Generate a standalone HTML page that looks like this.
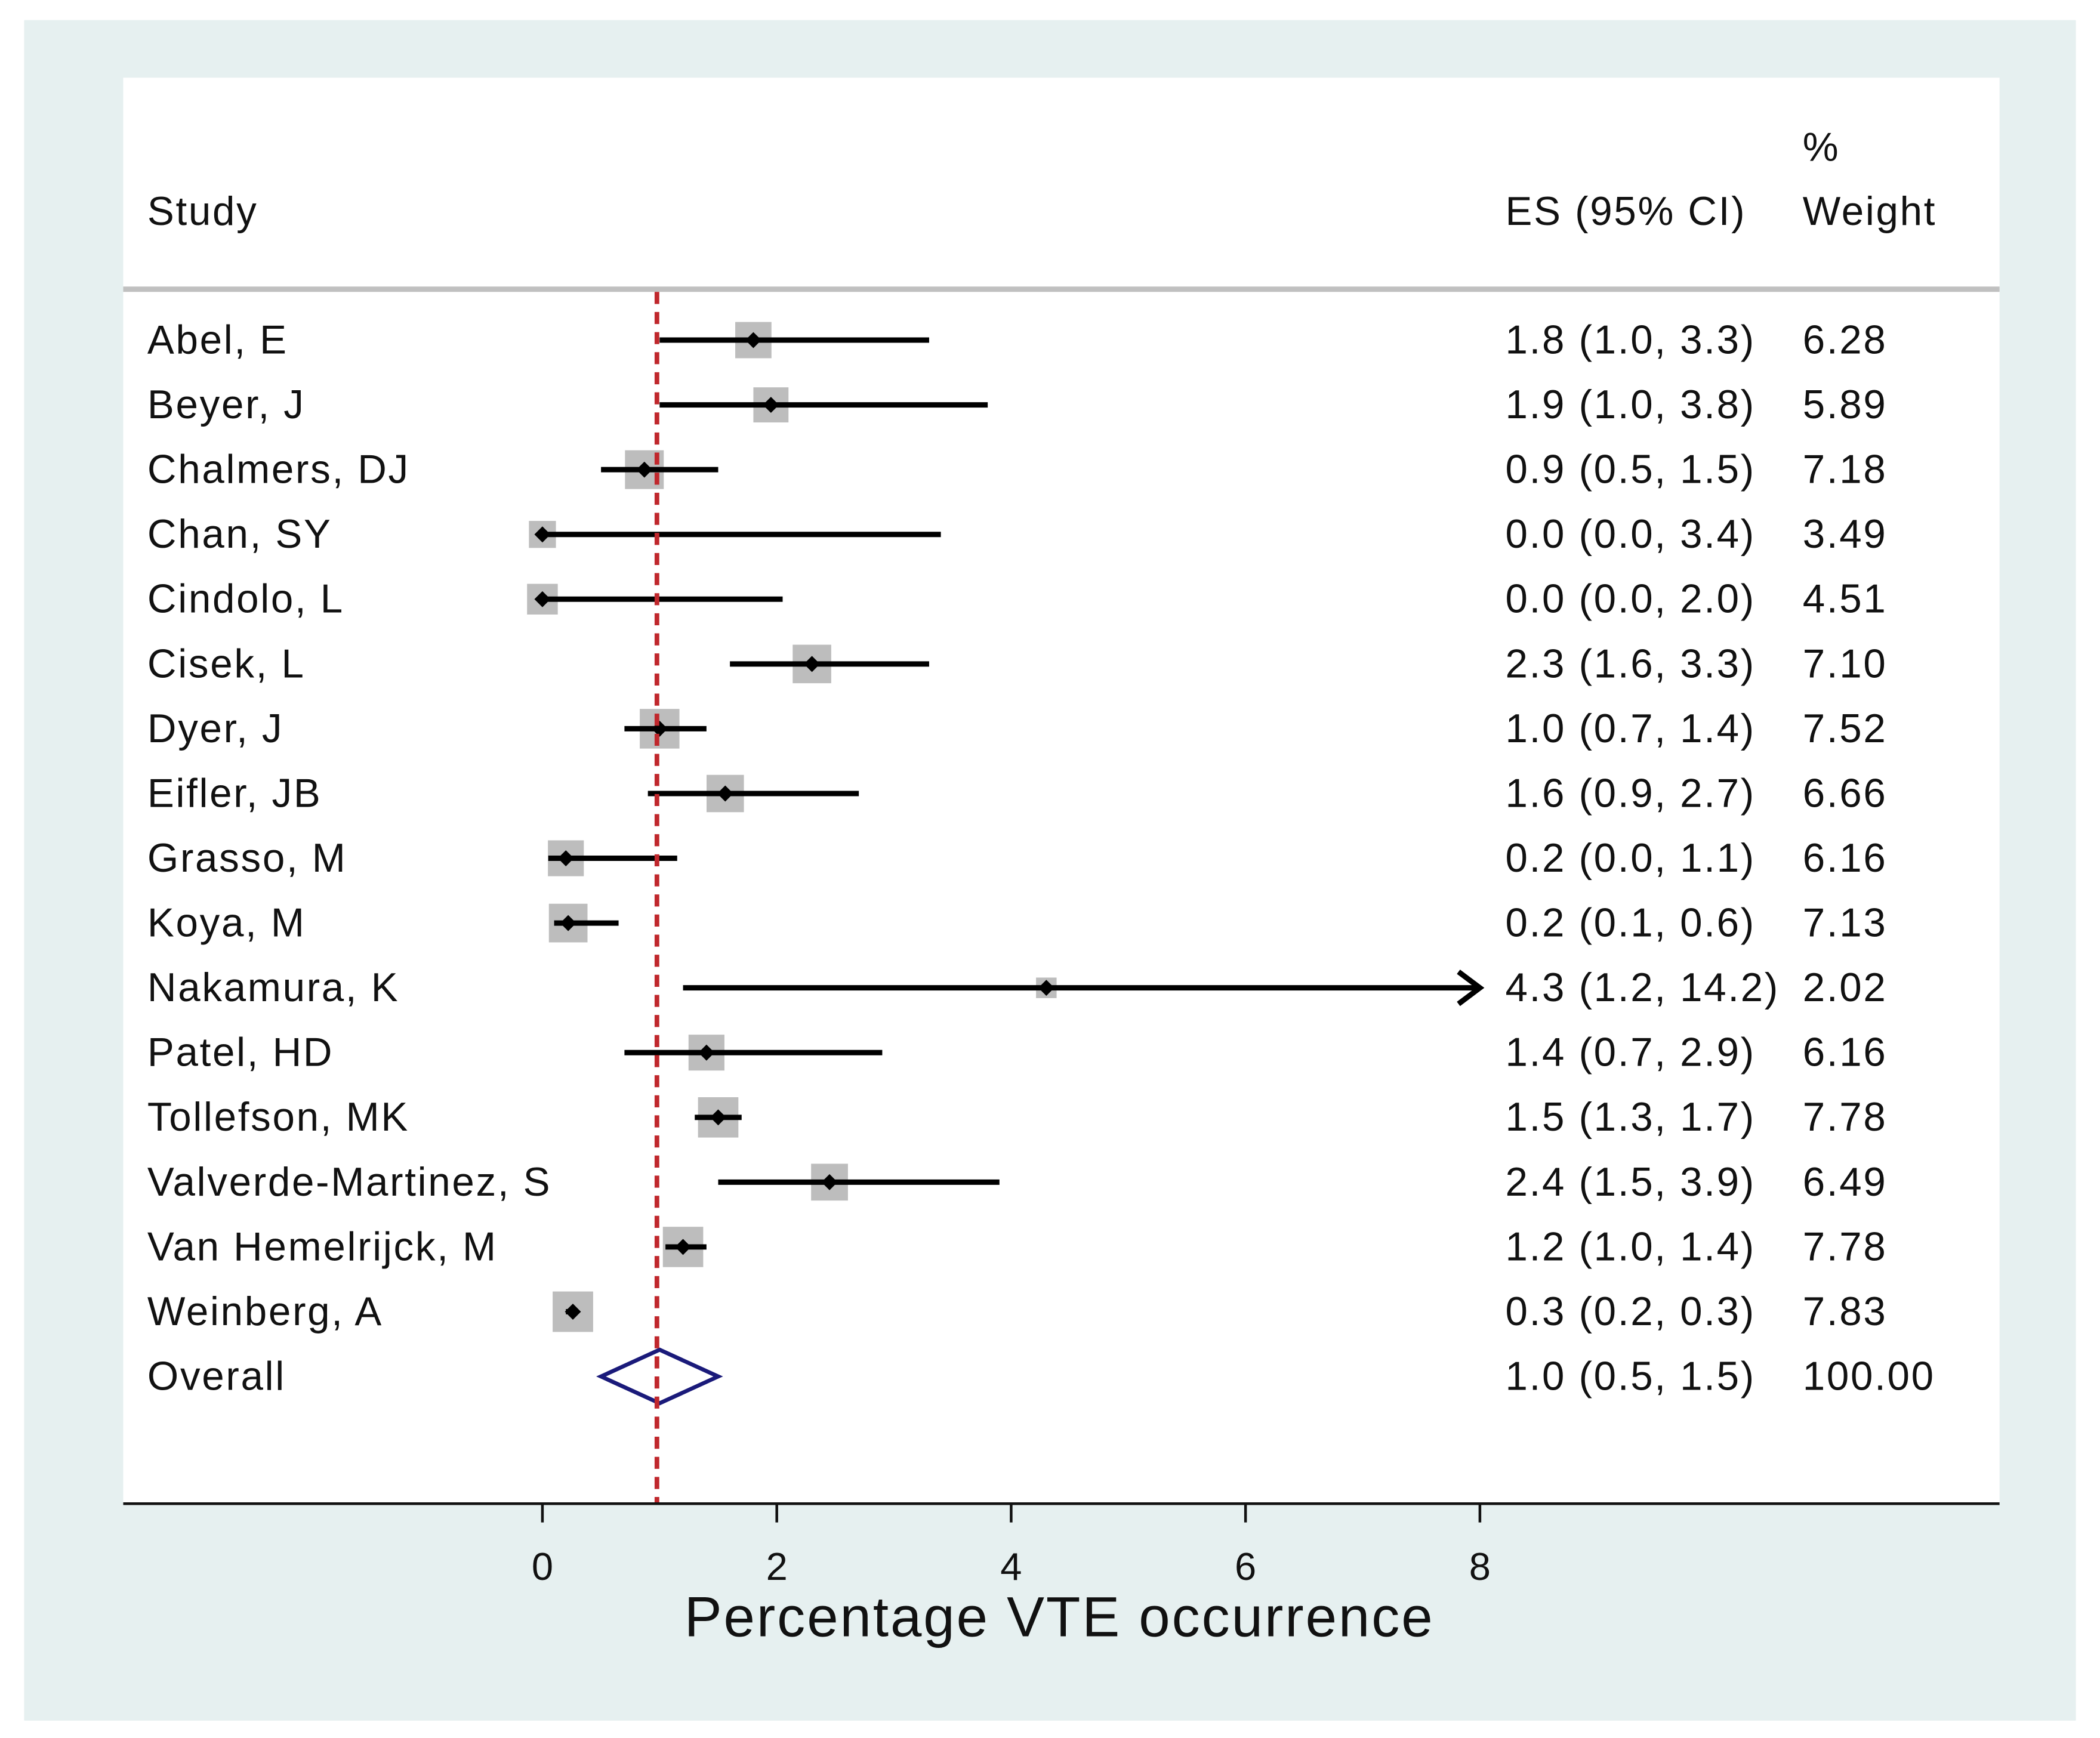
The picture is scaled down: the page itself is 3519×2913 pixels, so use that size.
<!DOCTYPE html>
<html><head><meta charset="utf-8"><style>
html,body{margin:0;padding:0;background:#fff;}
svg{display:block;}
text{font-family:"Liberation Sans","DejaVu Sans",sans-serif;fill:#111;}
</style></head><body>
<svg id="chart" width="3519" height="2913" viewBox="0 0 1568 1298" xmlns="http://www.w3.org/2000/svg">
<rect x="0" y="0" width="1568" height="1298" fill="#ffffff"/>
<rect x="18" y="15" width="1532" height="1270" fill="#e6f0f0"/>
<rect x="92" y="58" width="1401" height="1065" fill="#ffffff"/>
<line x1="92" y1="216" x2="1493" y2="216" stroke="#c0c0c0" stroke-width="4"/>
<text x="110" y="168" font-size="30" letter-spacing="1.2">Study</text>
<text x="1124" y="168" font-size="30" letter-spacing="1.2">ES (95% CI)</text>
<text x="1346" y="120" font-size="30" letter-spacing="1.2">%</text>
<text x="1346" y="168" font-size="30" letter-spacing="1.2">Weight</text>
<g id="rows"></g>
<line x1="92" y1="1123" x2="1493" y2="1123" stroke="#111" stroke-width="2"/>
<g id="axis"></g>
<text x="791" y="1222" font-size="42" letter-spacing="1.3" text-anchor="middle">Percentage VTE occurrence</text>
</svg>
<script>
const studies=["Abel, E","Beyer, J","Chalmers, DJ","Chan, SY","Cindolo, L","Cisek, L","Dyer, J","Eifler, JB","Grasso, M","Koya, M","Nakamura, K","Patel, HD","Tollefson, MK","Valverde-Martinez, S","Van Hemelrijck, M","Weinberg, A"];
const es=[1.8,1.95,0.87,0.0,0.0,2.3,1.0,1.56,0.2,0.22,4.3,1.4,1.5,2.45,1.2,0.26];
const lo=[1.0,1.0,0.5,0.0,0.0,1.6,0.7,0.9,0.05,0.1,1.2,0.7,1.3,1.5,1.05,0.2];
const hi=[3.3,3.8,1.5,3.4,2.05,3.3,1.4,2.7,1.15,0.65,14.2,2.9,1.7,3.9,1.4,0.3];
const weights=[6.28,5.89,7.18,3.49,4.51,7.10,7.52,6.66,6.16,7.13,2.02,6.16,7.78,6.49,7.78,7.83];
const esLabels=["1.8 (1.0, 3.3)","1.9 (1.0, 3.8)","0.9 (0.5, 1.5)","0.0 (0.0, 3.4)","0.0 (0.0, 2.0)","2.3 (1.6, 3.3)","1.0 (0.7, 1.4)","1.6 (0.9, 2.7)","0.2 (0.0, 1.1)","0.2 (0.1, 0.6)","4.3 (1.2, 14.2)","1.4 (0.7, 2.9)","1.5 (1.3, 1.7)","2.4 (1.5, 3.9)","1.2 (1.0, 1.4)","0.3 (0.2, 0.3)"];
const overall=[1.0,0.5,1.5];
const overallLabel="1.0 (0.5, 1.5)";
const overallWeight="100.00";
const xTicks=[0,2,4,6,8];
const xMax=8;

const NS="http://www.w3.org/2000/svg";
const xs=v=>405+87.5*v;
const ys=i=>254+48.375*i;
function mk(tag,attrs,parent){const e=document.createElementNS(NS,tag);for(const k in attrs)e.setAttribute(k,attrs[k]);parent.appendChild(e);return e;}
const rows=document.getElementById('rows');
const TA={'font-size':30,'letter-spacing':1.2};
studies.forEach((s,i)=>{
  const y=ys(i);
  const g=mk('g',{},rows);
  
  
  const side=10.8*Math.sqrt(weights[i]);
  const sq=mk('rect',{x:xs(es[i])-side/2,y:y-side/2,width:side,height:side,fill:'#bdbdbd'},g);
  
  
  const h=Math.min(hi[i],xMax);
  const ln=mk('line',{x1:xs(lo[i]),y1:y,x2:xs(h),y2:y,stroke:'#000','stroke-width':4},g);
  
  
  if(hi[i]>xMax){
    const ar=mk('polyline',{points:`${xs(xMax)-16},${y-12} ${xs(xMax)},${y} ${xs(xMax)-16},${y+12}`,fill:'none',stroke:'#000','stroke-width':4},g);
    
    
  }
  const cx=xs(es[i]);
  const pt=mk('polygon',{points:`${cx-6},${y} ${cx},${y-6} ${cx+6},${y} ${cx},${y+6}`,fill:'#000'},g);
  
  
  const t1=mk('text',Object.assign({x:110,y:y+10},TA),g);t1.textContent=s;
  
  
  const t2=mk('text',Object.assign({x:1124,y:y+10},TA),g);t2.textContent=esLabels[i];
  
  
  const t3=mk('text',Object.assign({x:1346,y:y+10},TA),g);t3.textContent=weights[i].toFixed(2);
  
  
});
const oy=ys(16);
const dm=mk('polygon',{points:`${xs(overall[1])},${oy} ${xs(overall[0])},${oy-20} ${xs(overall[2])},${oy} ${xs(overall[0])},${oy+20}`,fill:'none',stroke:'#1a1a7a','stroke-width':3},rows);


const o1=mk('text',Object.assign({x:110,y:oy+10},TA),rows);o1.textContent="Overall";


const o2=mk('text',Object.assign({x:1124,y:oy+10},TA),rows);o2.textContent=overallLabel;


const o3=mk('text',Object.assign({x:1346,y:oy+10},TA),rows);o3.textContent=overallWeight;


const ref=mk('line',{x1:xs(overall[0])-2,y1:218,x2:xs(overall[0])-2,y2:1123,stroke:'#c0282d','stroke-width':3.5,'stroke-dasharray':'9,6'},rows);


const axis=document.getElementById('axis');
xTicks.forEach(v=>{
  const tk=mk('line',{x1:xs(v),y1:1123,x2:xs(v),y2:1137,stroke:'#111','stroke-width':2},axis);
  
  
  const tl=mk('text',{x:xs(v),y:1180,'font-size':29,'text-anchor':'middle'},axis);tl.textContent=v;
  
  
});
</script>
</body></html>
